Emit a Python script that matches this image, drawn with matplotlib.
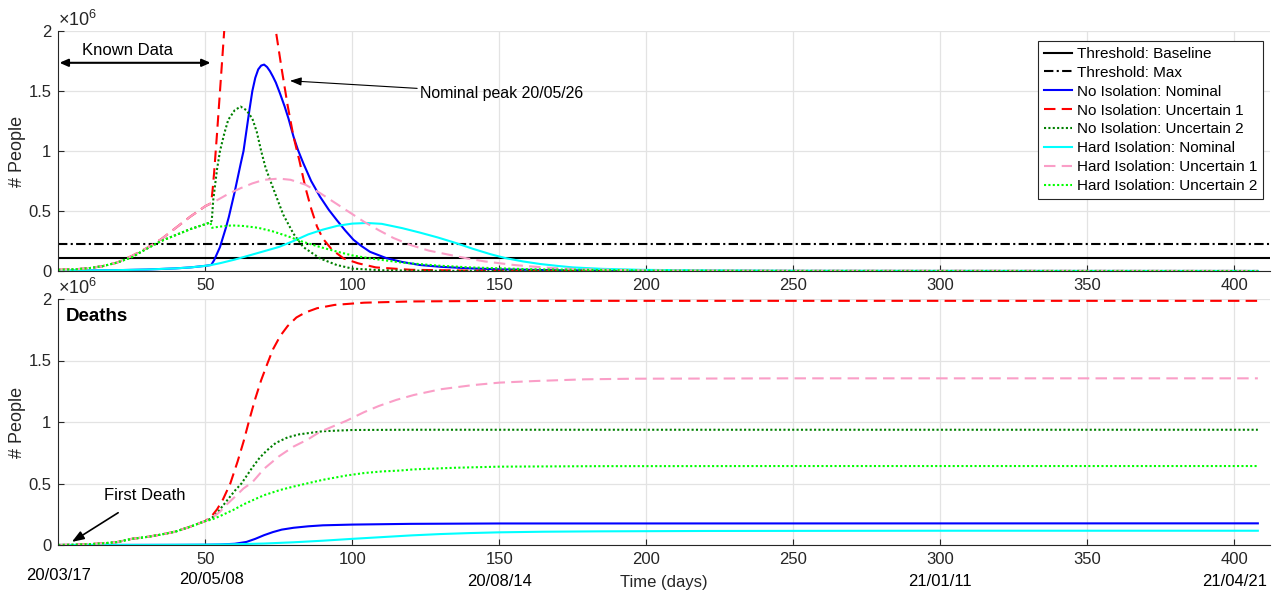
import matplotlib
matplotlib.use("Agg")
import matplotlib.pyplot as plt

plt.rcParams['font.family'] = ['Liberation Sans', 'DejaVu Sans']
plt.rcParams['mathtext.fontset'] = 'custom'
plt.rcParams['mathtext.rm'] = 'Liberation Sans'
plt.rcParams['mathtext.it'] = 'Liberation Sans:italic'

# ---------------- data (values in millions of people) ----------------
threshold_baseline = 0.11
threshold_max = 0.225

# Active cases
no_nom_days = [0, 10, 20, 30, 40, 45, 50, 52, 53, 55, 57, 58, 60, 62, 63, 64, 65, 66, 67, 68, 69, 70,
               71, 72, 73, 74, 75.4, 77, 78.3, 80, 81.5, 83.3, 86, 89, 92, 94.7, 97.5, 100.4, 103,
               106, 111.7, 117, 123, 130, 140, 150, 170, 200, 250, 408]
no_nom_vals = [0.002, 0.004, 0.007, 0.012, 0.022, 0.03, 0.043, 0.05, 0.09, 0.2, 0.36, 0.45, 0.66, 0.89,
               1.0, 1.17, 1.34, 1.5, 1.61, 1.68, 1.712, 1.72, 1.70, 1.665, 1.62, 1.57, 1.48, 1.37,
               1.27, 1.12, 1.01, 0.9, 0.75, 0.62, 0.51, 0.425, 0.34, 0.26, 0.21, 0.16, 0.106, 0.075,
               0.05, 0.035, 0.022, 0.014, 0.006, 0.002, 0.0005, 0.0]

no_unc1_days = [0, 5, 10, 15, 20, 25, 30, 35, 40, 45, 50, 52, 52.5, 53, 54, 55, 56, 57, 59, 61, 63, 65,
                67, 69, 71, 73, 74, 76, 78, 80, 82, 84, 86, 88, 90, 93, 97, 102, 108, 120, 140, 200, 408]
no_unc1_vals = [0.01, 0.013, 0.022, 0.04, 0.07, 0.125, 0.19, 0.265, 0.36, 0.455, 0.54, 0.565, 0.68, 0.82,
                1.15, 1.5, 1.85, 2.2, 2.75, 3.1, 3.25, 3.2, 3.0, 2.72, 2.42, 2.15, 2.0, 1.68, 1.38,
                1.12, 0.92, 0.7, 0.52, 0.37, 0.27, 0.18, 0.105, 0.064, 0.03, 0.01, 0.003, 0.0005, 0.0]

no_unc2_days = [0, 5, 10, 15, 20, 25, 30, 35, 40, 45, 50, 51.7, 52.2, 52.7, 54, 55, 56.5, 57.8, 60, 62,
                64, 66, 67.5, 69, 70.5, 72, 74, 76.5, 80, 83.3, 89, 94.7, 100, 110, 130, 408]
no_unc2_vals = [0.01, 0.013, 0.022, 0.04, 0.07, 0.115, 0.185, 0.25, 0.3, 0.35, 0.39, 0.405, 0.42, 0.59,
                0.85, 1.0, 1.15, 1.26, 1.34, 1.37, 1.34, 1.27, 1.16, 1.0, 0.86, 0.76, 0.63, 0.47, 0.31,
                0.2, 0.105, 0.05, 0.02, 0.006, 0.001, 0.0]

hard_nom_days = [0, 10, 20, 30, 40, 45, 50, 52, 55, 60, 65, 70, 75, 80, 85, 90, 95, 100, 105, 110, 117,
                 123, 129, 135, 141, 147, 152, 158, 164, 170, 175, 185, 198, 220, 250, 300, 408]
hard_nom_vals = [0.002, 0.004, 0.007, 0.012, 0.022, 0.03, 0.043, 0.05, 0.065, 0.095, 0.13, 0.165, 0.2,
                 0.25, 0.305, 0.345, 0.377, 0.395, 0.40, 0.393, 0.357, 0.32, 0.28, 0.235, 0.185, 0.14,
                 0.108, 0.08, 0.058, 0.042, 0.03, 0.018, 0.01, 0.004, 0.001, 0.0, 0.0]

hard_unc1_days = [0, 5, 10, 15, 20, 25, 30, 35, 40, 45, 50, 52, 54, 58, 62, 66, 70, 75, 79, 84, 89, 94,
                  99, 104, 109, 114, 120, 126, 132, 139, 145, 155, 166, 177, 200, 250, 408]
hard_unc1_vals = [0.01, 0.013, 0.022, 0.04, 0.07, 0.125, 0.19, 0.265, 0.36, 0.455, 0.54, 0.565, 0.59,
                  0.645, 0.69, 0.73, 0.76, 0.77, 0.76, 0.72, 0.65, 0.57, 0.49, 0.41, 0.34, 0.275, 0.215,
                  0.17, 0.14, 0.105, 0.08, 0.05, 0.028, 0.015, 0.005, 0.001, 0.0]

hard_unc2_days = [0, 5, 10, 15, 20, 25, 30, 35, 40, 45, 50, 51.7, 52.3, 55, 59, 63, 68, 73, 78, 83, 89,
                  95, 100, 106, 117, 129, 140, 160, 200, 250, 408]
hard_unc2_vals = [0.01, 0.013, 0.022, 0.04, 0.07, 0.115, 0.185, 0.25, 0.3, 0.35, 0.39, 0.405, 0.36, 0.37,
                  0.38, 0.375, 0.36, 0.33, 0.29, 0.245, 0.2, 0.16, 0.13, 0.105, 0.07, 0.045, 0.03,
                  0.015, 0.004, 0.001, 0.0]

# Cumulative deaths
d_no_nom_days = [0, 40, 50, 55, 60, 64, 67, 70, 73, 76, 80, 85, 90, 100, 120, 150, 408]
d_no_nom_vals = [0.0, 0.001, 0.002, 0.004, 0.01, 0.025, 0.05, 0.08, 0.105, 0.125, 0.14, 0.152, 0.16,
                 0.166, 0.172, 0.175, 0.176]

d_no_unc1_days = [0, 5, 10, 15, 20, 25, 30, 35, 40, 45, 50, 52, 54, 56, 58.5, 61, 63, 65, 67, 69, 71.2,
                  73, 75.5, 78, 81, 84, 88, 94, 104, 120, 150, 408]
d_no_unc1_vals = [0.0, 0.002, 0.006, 0.013, 0.024, 0.05, 0.065, 0.085, 0.11, 0.15, 0.195, 0.23, 0.29,
                  0.37, 0.5, 0.68, 0.84, 1.02, 1.19, 1.34, 1.48, 1.59, 1.7, 1.78, 1.85, 1.89, 1.925,
                  1.952, 1.97, 1.98, 1.985, 1.985]

d_no_unc2_days = [0, 5, 10, 15, 20, 25, 30, 35, 40, 45, 50, 52, 54, 56, 58, 60, 62.3, 64, 66, 68.5, 71,
                  74, 78, 82, 90, 100, 120, 408]
d_no_unc2_vals = [0.0, 0.002, 0.006, 0.013, 0.024, 0.05, 0.065, 0.085, 0.11, 0.15, 0.195, 0.215, 0.26,
                  0.32, 0.38, 0.44, 0.5, 0.56, 0.63, 0.71, 0.77, 0.83, 0.875, 0.9, 0.925, 0.935, 0.937,
                  0.937]

d_hard_nom_days = [0, 30, 50, 60, 70, 80, 90, 100, 110, 120, 130, 140, 150, 165, 184, 220, 300, 408]
d_hard_nom_vals = [0.0, 0.001, 0.003, 0.006, 0.012, 0.022, 0.035, 0.05, 0.064, 0.078, 0.089, 0.097,
                   0.103, 0.108, 0.111, 0.114, 0.116, 0.116]

d_hard_unc1_days = [0, 5, 10, 15, 20, 25, 30, 35, 40, 45, 50, 52, 55, 57.3, 60, 63, 66, 70, 75, 80, 85,
                    89, 93, 98, 104, 109, 115, 121, 130, 141, 150, 162, 179, 196, 250, 408]
d_hard_unc1_vals = [0.0, 0.002, 0.006, 0.013, 0.024, 0.05, 0.065, 0.085, 0.11, 0.15, 0.195, 0.215, 0.27,
                    0.33, 0.39, 0.46, 0.51, 0.62, 0.72, 0.8, 0.86, 0.92, 0.96, 1.01, 1.08, 1.13, 1.18,
                    1.22, 1.266, 1.3, 1.32, 1.333, 1.347, 1.352, 1.355, 1.355]

d_hard_unc2_days = [0, 5, 10, 15, 20, 25, 30, 35, 40, 45, 50, 52, 55, 59.5, 63, 66.3, 70, 75.4, 80, 84.5,
                    90, 98, 104, 110, 116, 121, 135, 150, 184, 250, 408]
d_hard_unc2_vals = [0.0, 0.002, 0.006, 0.013, 0.024, 0.05, 0.065, 0.085, 0.11, 0.15, 0.195, 0.205, 0.235,
                    0.285, 0.33, 0.366, 0.405, 0.447, 0.475, 0.5, 0.53, 0.565, 0.585, 0.598, 0.605,
                    0.615, 0.628, 0.637, 0.641, 0.642, 0.642]

x_ticks = [50, 100, 150, 200, 250, 300, 350, 400]
y_ticks = [0, 0.5, 1, 1.5, 2]
y_tick_labels = ['0', '0.5', '1', '1.5', '2']
date_days = [0, 52, 150, 300, 400]
date_labels = ['20/03/17', '20/05/08', '20/08/14', '21/01/11', '21/04/21']

# ---------------- styles ----------------
C_BLUE = (0, 0, 1)
C_RED = (1, 0, 0)
C_DKGREEN = (0, 0.5, 0)
C_CYAN = (0, 1, 1)
C_PINK = (0.98, 0.62, 0.78)
C_LTGREEN = (0, 1, 0)
AX_COL = '#262626'
LW = 1.5
DASH = (0, (5.5, 3))
DOT = (0, (1, 1.1))
DASHDOT = (0, (4.5, 1.6, 1, 1.6))

fig = plt.figure(figsize=(12.72, 5.92), dpi=100)
L, W = 58.3 / 1272, (1269.6 - 58.3) / 1272
ax1 = fig.add_axes([L, 1 - 271 / 592, W, 240 / 592])
ax2 = fig.add_axes([L, 1 - 545 / 592, W, 246 / 592])


def style_axes(ax):
    ax.set_xlim(0, 412)
    ax.set_ylim(0, 2)
    for s in ['top', 'right']:
        ax.spines[s].set_visible(False)
    for s in ['left', 'bottom']:
        ax.spines[s].set_color(AX_COL)
        ax.spines[s].set_linewidth(0.8)
    ax.set_xticks(x_ticks)
    ax.set_yticks(y_ticks)
    ax.set_yticklabels(y_tick_labels)
    ax.tick_params(direction='in', length=4.5, width=0.8, color=AX_COL,
                   labelsize=12, labelcolor=AX_COL, pad=5)
    ax.grid(True, color='#e3e3e3', linewidth=0.9)
    ax.set_axisbelow(True)
    ax.set_ylabel('# People', fontsize=13, color=AX_COL)
    ax.yaxis.set_label_coords(-0.027, 0.5)
    ax.text(0.0, 1.003, r'$\times$10$^{6}$', transform=ax.transAxes, ha='left', va='bottom',
            fontsize=13, color=AX_COL)


style_axes(ax1)
style_axes(ax2)

# ---------------- top panel: active cases ----------------
ax1.axhline(threshold_baseline, color='k', lw=LW, label='Threshold: Baseline')
ax1.axhline(threshold_max, color='k', lw=LW, linestyle=DASHDOT, label='Threshold: Max')
ax1.plot(no_nom_days, no_nom_vals, color=C_BLUE, lw=LW, label='No Isolation: Nominal')
ax1.plot(no_unc1_days, no_unc1_vals, color=C_RED, lw=LW, linestyle=DASH, label='No Isolation: Uncertain 1')
ax1.plot(no_unc2_days, no_unc2_vals, color=C_DKGREEN, lw=LW, linestyle=DOT, label='No Isolation: Uncertain 2')
ax1.plot(hard_nom_days, hard_nom_vals, color=C_CYAN, lw=LW, label='Hard Isolation: Nominal')
ax1.plot(hard_unc1_days, hard_unc1_vals, color=C_PINK, lw=LW, linestyle=DASH, label='Hard Isolation: Uncertain 1')
ax1.plot(hard_unc2_days, hard_unc2_vals, color=C_LTGREEN, lw=LW, linestyle=DOT, label='Hard Isolation: Uncertain 2')

leg = ax1.legend(loc='upper right', bbox_to_anchor=(0.9946, 0.958), borderaxespad=0,
                 fontsize=11, frameon=True, fancybox=False, framealpha=1, edgecolor=AX_COL,
                 handlelength=1.85, handletextpad=0.3, labelspacing=0.32, borderpad=0.38)
leg.get_frame().set_linewidth(0.8)
for t in leg.get_texts():
    t.set_color('k')

# Known-data span and peak annotation
ax1.annotate('', xy=(51.8, 1.735), xytext=(0.4, 1.735),
             arrowprops=dict(arrowstyle='<|-|>,head_length=0.5,head_width=0.22', color='k',
                             lw=1.5, shrinkA=0, shrinkB=0))
ax1.text(23.5, 1.84, 'Known Data', ha='center', va='center', fontsize=12, color='k')
ax1.annotate('Nominal peak 20/05/26', xy=(78.8, 1.585), xytext=(123.0, 1.48),
             ha='left', va='center', fontsize=11.4, color='k',
             arrowprops=dict(arrowstyle='-|>,head_length=0.6,head_width=0.22', color='k',
                             lw=0.8, shrinkA=0, shrinkB=0))

# ---------------- bottom panel: deaths ----------------
ax2.plot(d_no_nom_days, d_no_nom_vals, color=C_BLUE, lw=LW)
ax2.plot(d_no_unc1_days, d_no_unc1_vals, color=C_RED, lw=LW, linestyle=DASH)
ax2.plot(d_no_unc2_days, d_no_unc2_vals, color=C_DKGREEN, lw=LW, linestyle=DOT)
ax2.plot(d_hard_nom_days, d_hard_nom_vals, color=C_CYAN, lw=LW)
ax2.plot(d_hard_unc1_days, d_hard_unc1_vals, color=C_PINK, lw=LW, linestyle=DASH)
ax2.plot(d_hard_unc2_days, d_hard_unc2_vals, color=C_LTGREEN, lw=LW, linestyle=DOT)

ax2.text(2.6, 1.86, 'Deaths', ha='left', va='center', fontsize=13.5, fontweight='bold', color='k')
ax2.annotate('First Death', xy=(4.6, 0.025), xytext=(29.5, 0.4), ha='center', va='center',
             fontsize=12, color='k',
             arrowprops=dict(arrowstyle='-|>,head_length=0.6,head_width=0.22', color='k',
                             lw=1.2, shrinkA=9, shrinkB=0))

# calendar dates under the day axis
xt = ax2.get_xaxis_transform()
date_y = [-0.126, -0.142, -0.150, -0.150, -0.150]
for d, lab, yy in zip(date_days, date_labels, date_y):
    ax2.text(d, yy, lab, transform=xt, ha='center', va='center', fontsize=12, color='k',
             clip_on=False)
ax2.set_xlabel('Time (days)', fontsize=12, color=AX_COL)
ax2.xaxis.set_label_coords(0.5, -0.152)
ax2.xaxis.label.set_va('center')

fig.savefig('out.png', dpi=100)
